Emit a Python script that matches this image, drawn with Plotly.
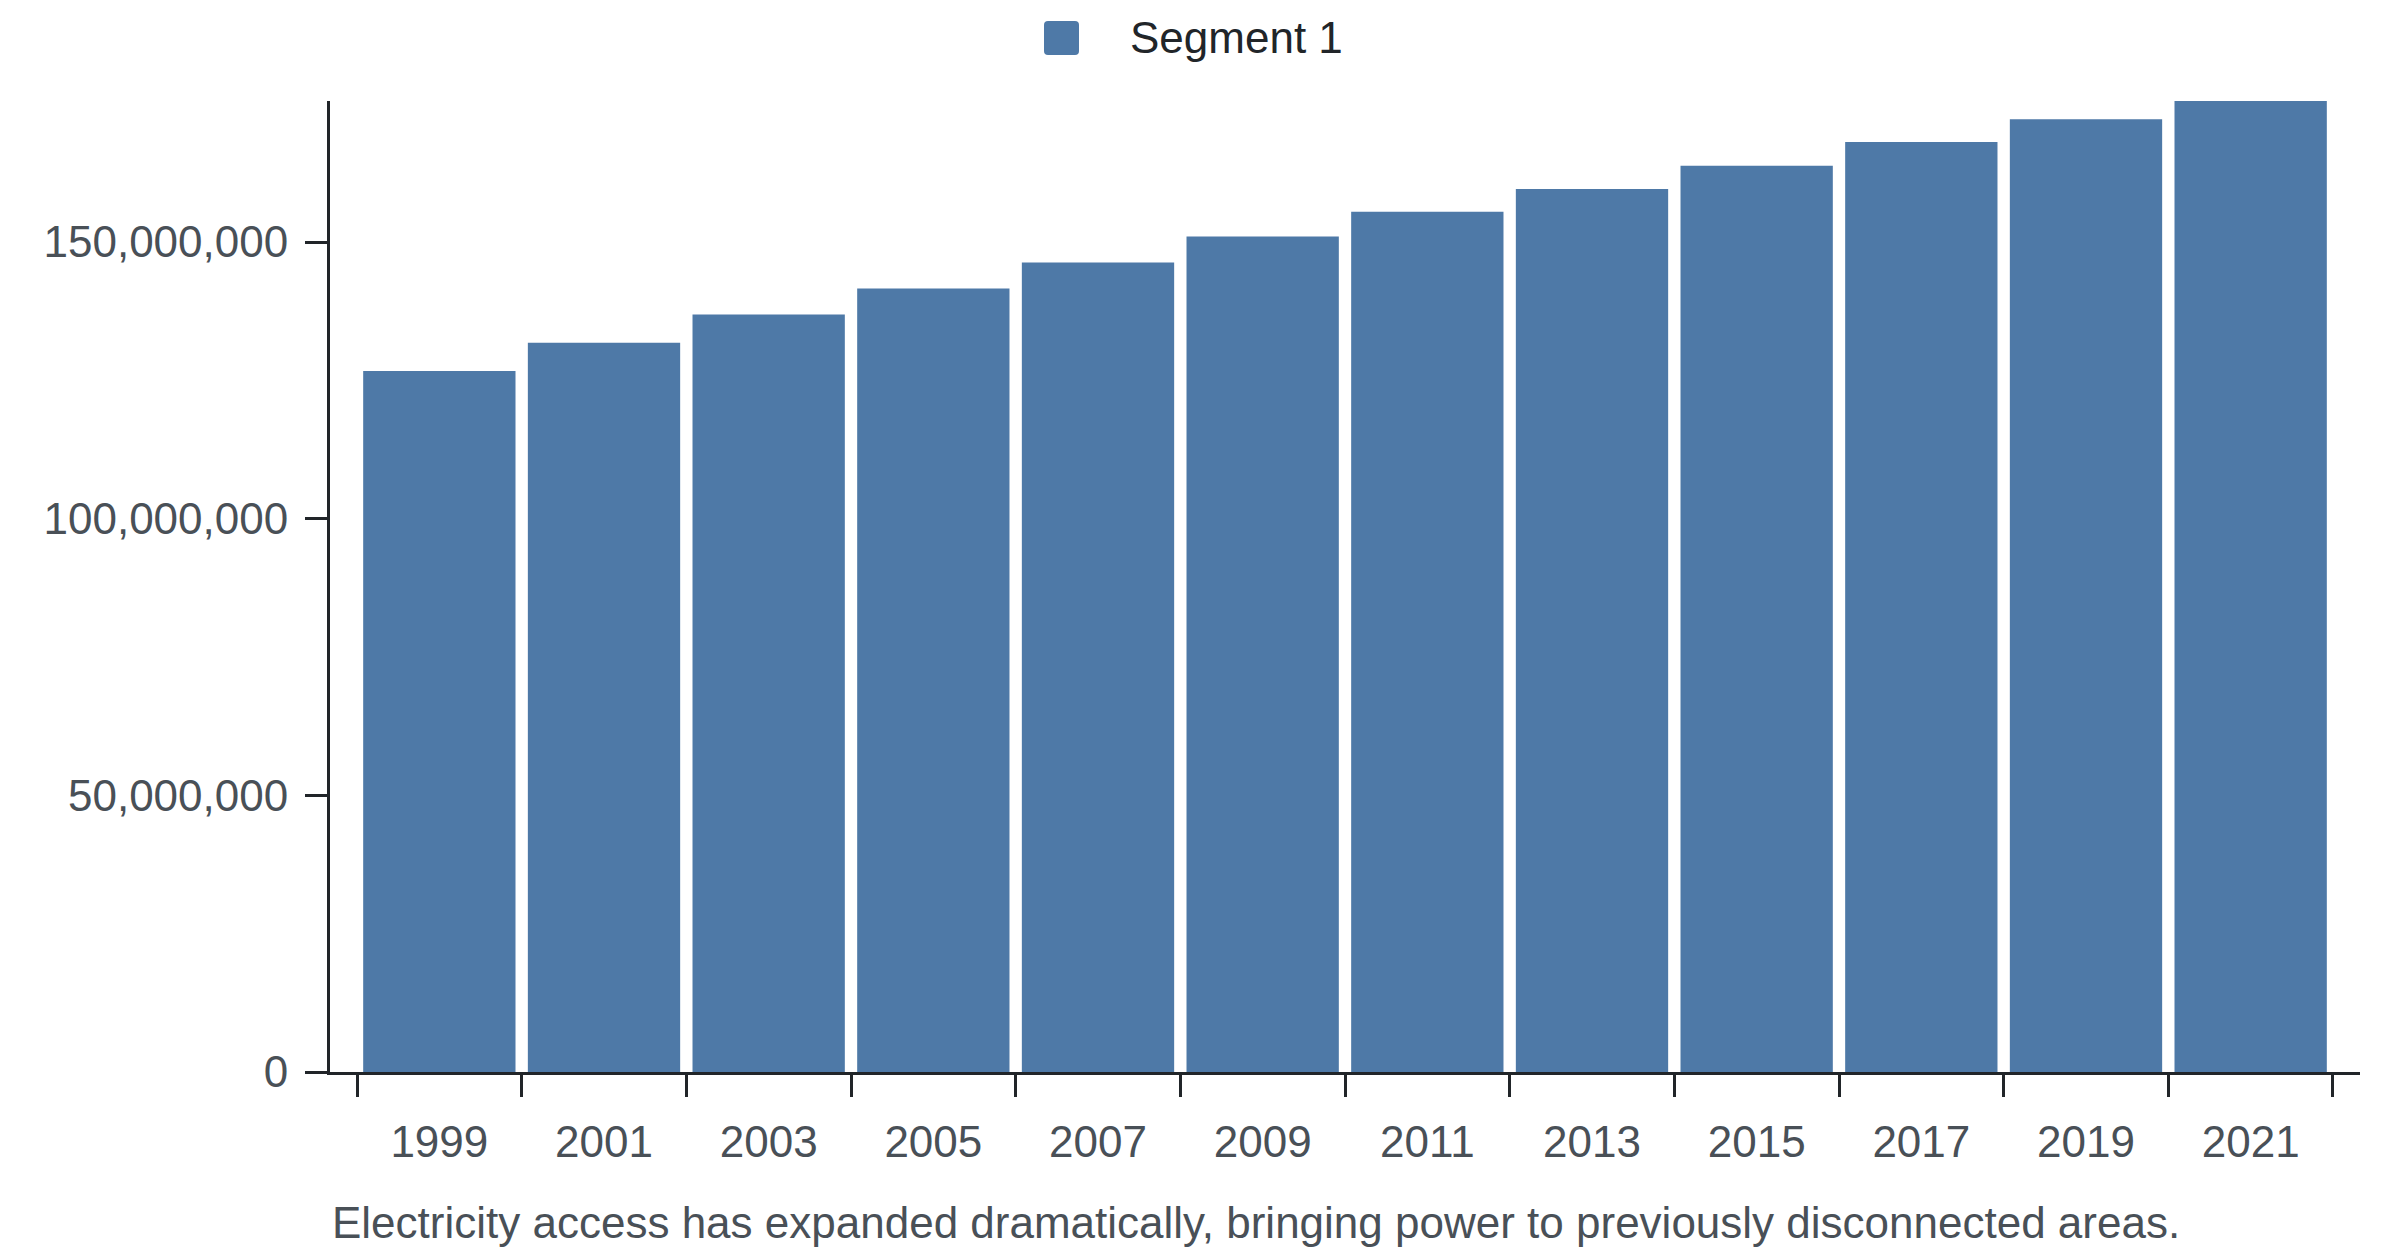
import plotly.graph_objects as go

# data
years = ["1999", "2001", "2003", "2005", "2007", "2009",
         "2011", "2013", "2015", "2017", "2019", "2021"]
people_with_access = [126.7e6, 131.8e6, 136.9e6, 141.6e6, 146.3e6, 151.0e6,
                      155.5e6, 159.6e6, 163.8e6, 168.1e6, 172.2e6, 175.5e6]
y_ticks = [0, 50e6, 100e6, 150e6]
series_name = "Segment 1"
caption = ("Electricity access has expanded dramatically, "
           "bringing power to previously disconnected areas.")

BAR_COLOR = "#4e79a7"
AXIS_COLOR = "#212529"
LABEL_COLOR = "#495057"
FONT = "Liberation Sans, Arial, sans-serif"
FS = 44

# the page body adds an 8px margin, so the figure is drawn 8px smaller
OFF = 8
W, H = 2400 - OFF, 1256 - OFF
L, R, T, B = 330 - OFF, 40, 101 - OFF, 184
plot_w = W - L - R
plot_h = H - T - B


def px_x(p):
    # reference pixel -> paper x
    return (p - OFF - L) / plot_w


def px_y(p):
    # reference pixel -> paper y
    return (H - B - (p - OFF)) / plot_h


fig = go.Figure()

fig.add_trace(go.Bar(
    x=years,
    y=people_with_access,
    name=series_name,
    marker=dict(color=BAR_COLOR, line=dict(width=0)),
    showlegend=False,
))

pad = 0.164
fig.update_layout(
    width=W,
    height=H,
    margin=dict(l=L, r=R, t=T, b=B),
    paper_bgcolor="white",
    plot_bgcolor="white",
    bargap=0.075,
    font=dict(family=FONT, size=FS, color=LABEL_COLOR),
    xaxis=dict(
        type="category",
        range=[-0.5 - pad, len(years) - 0.5 + pad],
        showline=True, linecolor=AXIS_COLOR, linewidth=3,
        ticks="outside", tickson="boundaries",
        ticklen=22, tickwidth=3, tickcolor=AXIS_COLOR,
        ticklabelstandoff=29,
        showgrid=False, zeroline=False,
        tickfont=dict(family=FONT, size=FS, color=LABEL_COLOR),
    ),
    yaxis=dict(
        range=[0, max(people_with_access)],
        tickvals=y_ticks,
        tickformat=",d",
        showline=True, linecolor=AXIS_COLOR, linewidth=3,
        ticks="outside", ticklen=22, tickwidth=3, tickcolor=AXIS_COLOR,
        ticklabelstandoff=8,
        showgrid=False, zeroline=False,
        tickfont=dict(family=FONT, size=FS, color=LABEL_COLOR),
    ),
)

# legend swatch drawn by hand so it can be as big as the reference one
x0, x1 = px_x(1044), px_x(1079)
y0, y1 = px_y(55), px_y(21)
rx, ry = 4 / plot_w, 4 / plot_h
swatch = (f"M{x0 + rx},{y0} L{x1 - rx},{y0} Q{x1},{y0} {x1},{y0 + ry} "
          f"L{x1},{y1 - ry} Q{x1},{y1} {x1 - rx},{y1} "
          f"L{x0 + rx},{y1} Q{x0},{y1} {x0},{y1 - ry} "
          f"L{x0},{y0 + ry} Q{x0},{y0} {x0 + rx},{y0} Z")
fig.add_shape(type="path", path=swatch, xref="paper", yref="paper",
              fillcolor=BAR_COLOR, line=dict(width=0))

fig.add_annotation(
    text=series_name, xref="paper", yref="paper",
    x=px_x(1128), y=px_y(38), xanchor="left", yanchor="middle",
    showarrow=False, font=dict(family=FONT, size=FS, color=AXIS_COLOR),
)

fig.add_annotation(
    text=caption, xref="paper", yref="paper",
    x=px_x(330), y=px_y(1222), xanchor="left", yanchor="middle",
    showarrow=False, font=dict(family=FONT, size=FS, color=LABEL_COLOR),
)

fig.write_html("out.html")
